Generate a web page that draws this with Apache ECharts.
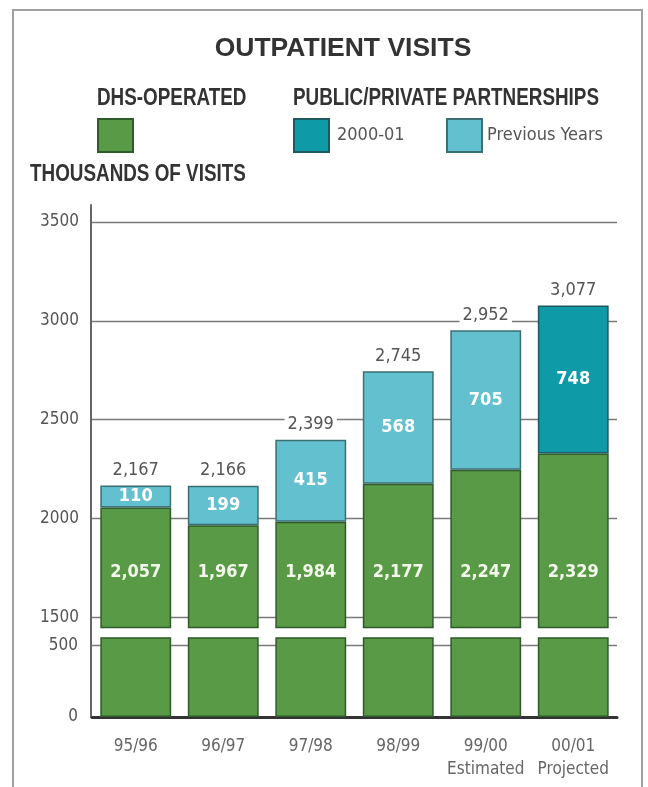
<!DOCTYPE html>
<html>
<head>
<meta charset="utf-8">
<title>Outpatient Visits</title>
<script src="https://cdn.jsdelivr.net/npm/echarts@6/dist/echarts.min.js"></script>
<style>
  html, body { margin: 0; padding: 0; background: #fff; }
  #chart { width: 648px; height: 787px; }
</style>
</head>
<body>
<div id="chart"></div>
<script>
// Fiscal years shown along the bottom
const years = ['95/96', '96/97', '97/98', '98/99', '99/00\nEstimated', '00/01\nProjected'];

// Thousands of visits
const dhsOperated   = [2057, 1967, 1984, 2177, 2247, 2329];
const previousYears = [110, 199, 415, 568, 705, null];
const fy2000        = [null, null, null, null, null, 748];

// Value-axis ticks that carry a label
const upperTicks = [1500, 2000, 2500, 3000, 3500];
const lowerTicks = [0, 500];

const totals = years.map((_, i) =>
  dhsOperated[i] + (previousYears[i] || 0) + (fy2000[i] || 0));

const FONT = "'DejaVu Sans Condensed', 'Liberation Sans', sans-serif";
const HEAD = "bold 23px 'Liberation Sans', Arial, sans-serif";
const GREEN = '#589a46', LIGHT = '#62c0cf', TEAL = '#0f9aa8';
const fmt = v => v.toLocaleString('en-US');

// Split lines only on labelled ticks (axis ticks every 50)
function gridColors(min, ticks) {
  const arr = new Array(10).fill('transparent');
  ticks.forEach(t => { arr[((t - min) / 50) % 10] = '#7a7a7a'; });
  return arr;
}

// Narrow bold header text
function header(text, x, y) {
  return { type: 'text', x: x, y: y, scaleX: 0.82, silent: true,
    style: { text: text, font: HEAD, fill: '#333', verticalAlign: 'middle' } };
}

const chart = echarts.init(document.getElementById('chart'), null, { renderer: 'canvas' });

const legendText = { fontFamily: FONT, fontSize: 18, color: '#555' };

chart.setOption({
  animation: false,
  backgroundColor: '#fff',
  textStyle: { fontFamily: FONT },
  title: [
    { text: 'OUTPATIENT VISITS', left: 338, top: 30, textAlign: 'center',
      textStyle: { fontFamily: "'Liberation Sans', Arial, sans-serif", fontSize: 26.5,
        fontWeight: 'bold', color: '#333' } }
  ],
  legend: [
    { data: ['DHS-Operated'], left: 92, top: 113, itemWidth: 35, itemHeight: 33,
      icon: 'rect', formatter: () => '', selectedMode: false },
    { data: ['2000-01'], left: 288, top: 113, itemWidth: 35, itemHeight: 33,
      icon: 'rect', selectedMode: false,
      textStyle: Object.assign({ padding: [3, 0, 0, 3] }, legendText) },
    { data: ['Previous Years'], left: 441, top: 113, itemWidth: 35, itemHeight: 33,
      icon: 'rect', selectedMode: false,
      textStyle: Object.assign({ padding: [3, 0, 0, 0] }, legendText) }
  ],
  grid: [
    { left: 92, right: 31, top: 205, bottom: 159.5 },
    { left: 92, right: 31, top: 638, bottom: 70 },
    { left: 91, right: 31, top: 205, bottom: 70 }
  ],
  xAxis: [
    { type: 'category', gridIndex: 0, data: years, show: false },
    { type: 'category', gridIndex: 1, data: years,
      axisLine: { lineStyle: { color: '#333', width: 3 } },
      axisTick: { inside: true, length: 8, lineStyle: { color: '#666', width: 1.5 } },
      axisLabel: { interval: 0, fontFamily: FONT, fontSize: 17, color: '#666',
        margin: 18, lineHeight: 23 } },
    { type: 'value', gridIndex: 2, min: 0, max: 1, show: false }
  ],
  yAxis: [
    { type: 'value', gridIndex: 0, min: 1450, max: 3585, interval: 50,
      axisLine: { show: false }, axisTick: { show: false },
      axisLabel: { fontFamily: FONT, fontSize: 17, color: '#555', margin: 13,
        formatter: v => (upperTicks.includes(v) ? String(v) : '') },
      splitLine: { lineStyle: { color: gridColors(1450, upperTicks), width: 1.3 } } },
    { type: 'value', gridIndex: 1, min: 0, max: 550, interval: 50,
      axisLine: { show: false }, axisTick: { show: false },
      axisLabel: { fontFamily: FONT, fontSize: 17, color: '#555', margin: 14,
        formatter: v => (lowerTicks.includes(v) ? String(v) : '') },
      splitLine: { lineStyle: { color: gridColors(0, lowerTicks), width: 1.3 } } },
    { type: 'value', gridIndex: 2, min: 0, max: 1,
      axisLine: { show: true, lineStyle: { color: '#666', width: 2 } },
      axisTick: { show: false }, axisLabel: { show: false }, splitLine: { show: false } }
  ],
  series: [
    { name: 'DHS-Operated', type: 'bar', xAxisIndex: 0, yAxisIndex: 0, stack: 'visits',
      data: dhsOperated, barWidth: '81%', barGap: '-100%',
      itemStyle: { color: GREEN, borderColor: '#2f5a2a', borderWidth: 1.5 },
      label: { show: true, position: 'insideBottom', distance: 47, fontFamily: FONT,
        fontSize: 18, fontWeight: 'bold', color: '#f4f8ec',
        formatter: p => fmt(p.value) } },
    { name: 'Previous Years', type: 'bar', xAxisIndex: 0, yAxisIndex: 0, stack: 'visits',
      data: previousYears, barWidth: '81%',
      itemStyle: { color: LIGHT, borderColor: '#3c6f74', borderWidth: 1.5 },
      label: { show: true, position: 'inside', fontFamily: FONT,
        fontSize: 18, fontWeight: 'bold', color: '#fff',
        formatter: p => fmt(p.value) } },
    { name: '2000-01', type: 'bar', xAxisIndex: 0, yAxisIndex: 0, stack: 'visits',
      data: fy2000, barWidth: '81%',
      itemStyle: { color: TEAL, borderColor: '#1c5a60', borderWidth: 1.5 },
      label: { show: true, position: 'inside', fontFamily: FONT,
        fontSize: 18, fontWeight: 'bold', color: '#fff',
        formatter: p => fmt(p.value) } },
    { name: 'Total', type: 'bar', xAxisIndex: 0, yAxisIndex: 0,
      data: totals, barWidth: '81%', barGap: '-100%', z: 1,
      itemStyle: { color: 'transparent' },
      label: { show: true, position: 'top', distance: 6, fontFamily: FONT,
        fontSize: 18, color: '#555', backgroundColor: '#fff', padding: [0, 3],
        formatter: p => fmt(p.value) } },
    { name: 'DHS-Operated', type: 'bar', xAxisIndex: 1, yAxisIndex: 1,
      data: dhsOperated, barWidth: '81%',
      itemStyle: { color: GREEN, borderColor: '#2f5a2a', borderWidth: 1.5 } }
  ],
  graphic: [
    header('DHS-OPERATED', 97, 99),
    header('PUBLIC/PRIVATE PARTNERSHIPS', 293, 99),
    header('THOUSANDS OF VISITS', 30, 175),
    { type: 'rect', silent: true, z: 100,
      shape: { x: 13, y: 10, width: 629, height: 800 },
      style: { fill: 'none', stroke: '#a0a0a0', lineWidth: 2 } }
  ]
});
</script>
</body>
</html>
